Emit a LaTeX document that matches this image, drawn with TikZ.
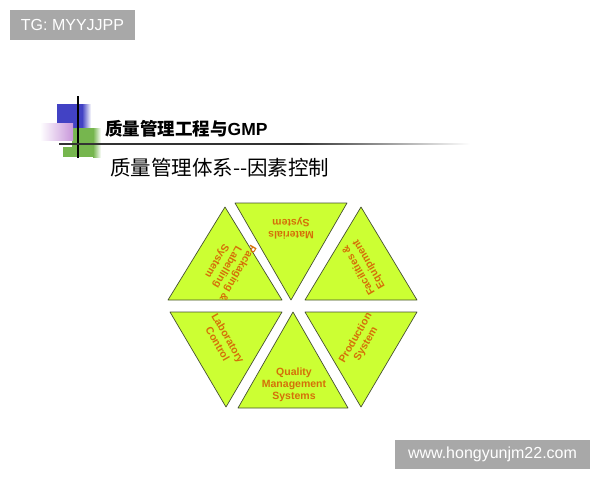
\documentclass[tikz,border=0pt]{standalone}
\usepackage{fontspec}
\setmainfont{Liberation Sans}
\newfontfamily\cjk{Noto Sans CJK SC}
\usetikzlibrary{positioning}

\definecolor{trifill}{RGB}{204,255,51}
\definecolor{triedge}{RGB}{70,80,50}
\definecolor{lbltxt}{RGB}{212,112,8}
\definecolor{wmgray}{RGB}{168,168,168}
\definecolor{logoblue}{RGB}{66,66,196}
\definecolor{logogreen}{RGB}{118,182,78}
\definecolor{logopurple}{RGB}{200,150,218}

\begin{document}
\begin{tikzpicture}[x=1pt,y=-1pt,
    tri/.style={draw=triedge,fill=trifill,line width=0.7pt,line join=round},
    lbl/.style={text=lbltxt,font=\fontsize{10.5}{12}\selectfont\bfseries,align=center,inner sep=0pt},
    wmbox/.style={fill=wmgray,text=white,font=\fontsize{16}{16}\selectfont,inner sep=0pt}]
  \useasboundingbox (0,0) rectangle (600,480);
  \node[wmbox,minimum width=125pt,minimum height=30pt] (tg) at (72.5,25) {TG: MYYJJPP};
  \node[wmbox,minimum width=195pt,minimum height=29pt] (web) at (492.5,454.5) {www.hongyunjm22.com};
  \fill[logoblue] (57,104) rectangle (82,128);
  \shade[left color=logoblue,right color=white] (82,104) rectangle (91,128);
  \fill[logogreen] (72,128) rectangle (93,157);
  \fill[logogreen] (63,147) rectangle (72,157);
  \shade[left color=logogreen,right color=white] (93,128) rectangle (101,157);
  \shade[left color=white,right color=logopurple] (40,123) rectangle (73,140);
  \draw[line width=1.2pt] (78,96) -- (78,158);
  \fill[black!80] (59,143.3) rectangle (300,144.6);
  \shade[left color=black!80,right color=white] (300,143.3) rectangle (470,144.6);
  \node[anchor=west,inner sep=0pt] (title) at (105,129)
    {\fontsize{17.5}{18}\selectfont\cjk\bfseries 质量管理工程与\rmfamily\bfseries GMP};
  \node[anchor=west,inner sep=0pt] (sub) at (110,168)
    {\fontsize{20.5}{21}\selectfont\cjk 质量管理体系{-}{-}因素控制};
  \draw[tri] (235,203) -- (347,203) -- (291,300) -- cycle;
  \draw[tri] (225,207) -- (168,300) -- (282,300) -- cycle;
  \draw[tri] (361,207) -- (305,300) -- (417,300) -- cycle;
  \draw[tri] (170,312) -- (282,312) -- (226,407) -- cycle;
  \draw[tri] (293,312) -- (238,408) -- (348,408) -- cycle;
  \draw[tri] (305,312) -- (417,312) -- (361,407) -- cycle;
  \node[lbl,rotate=180] (mat) at (291,228) {Materials\\System};
  \node[lbl,rotate=-120] (pack) at (227,267) {Packaging \&\\Labelling\\System};
  \node[lbl,rotate=120] (fac) at (364,267) {Facilities \&\\Equipment};
  \node[lbl,rotate=-60] (lab) at (223,341) {Laboratory\\Control};
  \node[lbl] (qms) at (294,385) {Quality\\Management\\Systems};
  \node[lbl,rotate=60] (prod) at (361,341) {Production\\System};
\end{tikzpicture}
\end{document}
